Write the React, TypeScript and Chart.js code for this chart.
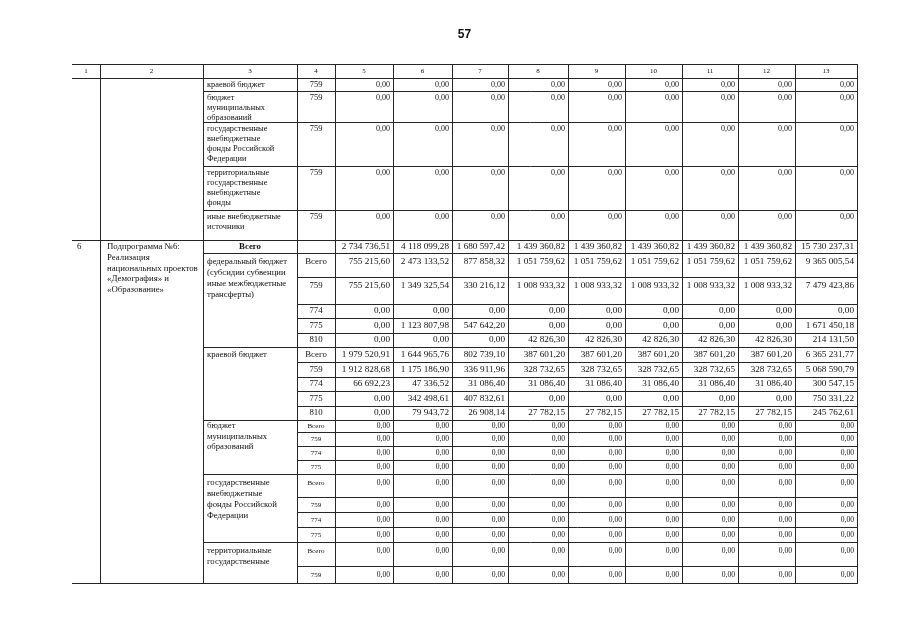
import React, { useEffect, useRef } from 'react';
import { Chart, registerables } from 'chart.js';

Chart.register(...registerables);

// ---------------- DATA ----------------
const PAGE_NUMBER = '57';
const columnHeaders = ['1', '2', '3', '4', '5', '6', '7', '8', '9', '10', '11', '12', '13'];

// continuation rows from previous page (cols 3..13)
const carrySources = [
  ['краевой бюджет'],
  ['бюджет', 'муниципальных', 'образований'],
  ['государственные', 'внебюджетные', 'фонды Российской', 'Федерации'],
  ['территориальные', 'государственные', 'внебюджетные', 'фонды'],
  ['иные внебюджетные', 'источники'],
];
const carryCodes = ['759', '759', '759', '759', '759'];
const carryValues = [
  [0, 0, 0, 0, 0, 0, 0, 0, 0],
  [0, 0, 0, 0, 0, 0, 0, 0, 0],
  [0, 0, 0, 0, 0, 0, 0, 0, 0],
  [0, 0, 0, 0, 0, 0, 0, 0, 0],
  [0, 0, 0, 0, 0, 0, 0, 0, 0],
];

// sub-programme No 6
const subNumber = '6';
const subName = ['Подпрограмма №6:', 'Реализация', 'национальных проектов', '«Демография» и', '«Образование»'];
const totalLabel = 'Всего';
const totalValues = [2734736.51, 4118099.28, 1680597.42, 1439360.82, 1439360.82, 1439360.82, 1439360.82, 1439360.82, 15730237.31];

const fedLabel = ['федеральный бюджет', '(субсидии субвенции', 'иные межбюджетные', 'трансферты)'];
const fedCodes = ['Всего', '759', '774', '775', '810'];
const fedValues = [
  [755215.60, 2473133.52, 877858.32, 1051759.62, 1051759.62, 1051759.62, 1051759.62, 1051759.62, 9365005.54],
  [755215.60, 1349325.54, 330216.12, 1008933.32, 1008933.32, 1008933.32, 1008933.32, 1008933.32, 7479423.86],
  [0, 0, 0, 0, 0, 0, 0, 0, 0],
  [0, 1123807.98, 547642.20, 0, 0, 0, 0, 0, 1671450.18],
  [0, 0, 0, 42826.30, 42826.30, 42826.30, 42826.30, 42826.30, 214131.50],
];

const krayLabel = ['краевой бюджет'];
const krayCodes = ['Всего', '759', '774', '775', '810'];
const krayValues = [
  [1979520.91, 1644965.76, 802739.10, 387601.20, 387601.20, 387601.20, 387601.20, 387601.20, 6365231.77],
  [1912828.68, 1175186.90, 336911.96, 328732.65, 328732.65, 328732.65, 328732.65, 328732.65, 5068590.79],
  [66692.23, 47336.52, 31086.40, 31086.40, 31086.40, 31086.40, 31086.40, 31086.40, 300547.15],
  [0, 342498.61, 407832.61, 0, 0, 0, 0, 0, 750331.22],
  [0, 79943.72, 26908.14, 27782.15, 27782.15, 27782.15, 27782.15, 27782.15, 245762.61],
];

const muniLabel = ['бюджет', 'муниципальных', 'образований'];
const muniCodes = ['Всего', '759', '774', '775'];
const muniValues = [
  [0, 0, 0, 0, 0, 0, 0, 0, 0],
  [0, 0, 0, 0, 0, 0, 0, 0, 0],
  [0, 0, 0, 0, 0, 0, 0, 0, 0],
  [0, 0, 0, 0, 0, 0, 0, 0, 0],
];

const gosLabel = ['государственные', 'внебюджетные', 'фонды Российской', 'Федерации'];
const gosCodes = ['Всего', '759', '774', '775'];
const gosValues = [
  [0, 0, 0, 0, 0, 0, 0, 0, 0],
  [0, 0, 0, 0, 0, 0, 0, 0, 0],
  [0, 0, 0, 0, 0, 0, 0, 0, 0],
  [0, 0, 0, 0, 0, 0, 0, 0, 0],
];

const terrLabel = ['территориальные', 'государственные'];
const terrCodes = ['Всего', '759'];
const terrValues = [
  [0, 0, 0, 0, 0, 0, 0, 0, 0],
  [0, 0, 0, 0, 0, 0, 0, 0, 0],
];

// ---------------- LAYOUT ----------------
const colWidths = [28, 103, 94, 38, 58, 59, 56, 60, 57, 57, 56, 57, 62];
const headerHeight = 14;
const carryHeights = [13, 31, 44, 44, 30];
const totalRowHeight = 13;
const fedHeights = [24, 27, 14, 15, 14];
const krayHeights = [15, 15, 14, 15, 14];
const muniHeights = [12, 14, 14, 14];
const gosHeights = [23, 15, 15, 15];
const terrHeights = [24, 17];

const SERIF = '"Liberation Serif", "Times New Roman", serif';

function fmt(v: number): string {
  const [i, d] = v.toFixed(2).split('.');
  const withSpaces = i.replace(/\B(?=(\d{3})+(?!\d))/g, '\u00a0');
  return withSpaces + ',' + d;
}

const cumW: number[] = [0];
colWidths.forEach((w) => cumW.push(cumW[cumW.length - 1] + w));
const tableWidth = cumW[cumW.length - 1];

type Block = { label: string[]; codes: string[]; values: number[][]; heights: number[]; big: boolean; spacing: number };
const blocks: Block[] = [
  { label: fedLabel, codes: fedCodes, values: fedValues, heights: fedHeights, big: true, spacing: 10.8 },
  { label: krayLabel, codes: krayCodes, values: krayValues, heights: krayHeights, big: true, spacing: 10.5 },
  { label: muniLabel, codes: muniCodes, values: muniValues, heights: muniHeights, big: false, spacing: 10.5 },
  { label: gosLabel, codes: gosCodes, values: gosValues, heights: gosHeights, big: false, spacing: 11 },
  { label: terrLabel, codes: terrCodes, values: terrValues, heights: terrHeights, big: false, spacing: 11 },
];

const tableHeight =
  headerHeight +
  carryHeights.reduce((a, b) => a + b, 0) +
  totalRowHeight +
  blocks.reduce((s, b) => s + b.heights.reduce((a, c) => a + c, 0), 0);

const tablePlugin = {
  id: 'tableDraw',
  afterDraw(chart: any) {
    const ctx: CanvasRenderingContext2D = chart.ctx;
    const xs = chart.scales.x;
    const ys = chart.scales.y;
    const X = (c: number) => Math.round(xs.getPixelForValue(cumW[c]));
    const Y = (v: number) => Math.round(ys.getPixelForValue(v));
    const nCols = colWidths.length;

    ctx.save();
    ctx.strokeStyle = '#262626';
    ctx.lineWidth = 1;
    const hline = (v: number, c0: number, c1: number) => {
      const yy = Y(v) + 0.5;
      ctx.beginPath();
      ctx.moveTo(X(c0), yy);
      ctx.lineTo(X(c1) + 1, yy);
      ctx.stroke();
    };
    const vline = (c: number, v0: number, v1: number) => {
      const xx = X(c) + 0.5;
      ctx.beginPath();
      ctx.moveTo(xx, Y(v0));
      ctx.lineTo(xx, Y(v1) + 1);
      ctx.stroke();
    };
    const text = (s: string, px: number, py: number, size: number, align: CanvasTextAlign, bold = false) => {
      ctx.font = `${bold ? 'bold ' : ''}${size}px ${SERIF}`;
      ctx.textAlign = align;
      ctx.textBaseline = 'middle';
      ctx.fillStyle = '#111';
      ctx.fillText(s, px, py);
    };
    const valuesRow = (vals: number[], py: number, size: number) => {
      vals.forEach((v, k) => {
        text(fmt(v), X(4 + k + 1) - 3, py, size, 'right');
      });
    };

    // page number
    ctx.font = `bold 12px "Liberation Sans", Arial, sans-serif`;
    ctx.fillStyle = '#111';
    ctx.textAlign = 'center';
    ctx.textBaseline = 'middle';
    ctx.fillText(PAGE_NUMBER, (X(0) + X(nCols)) / 2, Y(0) - 29);

    // header
    hline(0, 0, nCols);
    hline(headerHeight, 0, nCols);
    columnHeaders.forEach((h, c) => {
      text(h, (X(c) + X(c + 1)) / 2, Y(headerHeight / 2) + 0.5, 7, 'center');
    });

    // vertical lines
    for (let c = 1; c <= nCols; c++) vline(c, 0, tableHeight);

    // carry rows
    let top = headerHeight;
    carrySources.forEach((lines, r) => {
      const h = carryHeights[r];
      const py = Y(top) + 6.5;
      lines.forEach((ln, i) => text(ln, X(2) + 4, py + i * 10, 8.4, 'left'));
      text(carryCodes[r], (X(3) + X(4)) / 2, py, 8.5, 'center');
      valuesRow(carryValues[r], py, 8);
      top += h;
      if (r < carrySources.length - 1) hline(top, 2, nCols);
      else hline(top, 0, nCols);
    });

    // sub-programme total row
    const subTop = top;
    text(subNumber, X(0) + 5, Y(subTop) + 7, 8.8, 'left');
    subName.forEach((ln, i) => text(ln, X(1) + 7, Y(subTop) + 7 + i * 10.6, 8.8, 'left'));
    text(totalLabel, (X(2) + X(3)) / 2, Y(subTop) + 7, 8.8, 'center', true);
    valuesRow(totalValues, Y(subTop) + 7, 9.2);
    top += totalRowHeight;
    hline(top, 2, nCols);

    blocks.forEach((b, bi) => {
      const blockTop = top;
      b.codes.forEach((code, r) => {
        const h = b.heights[r];
        const py = h <= 16 ? Y(top + h / 2) : Y(top) + 9;
        text(code, (X(3) + X(4)) / 2, py, b.big ? 8.8 : 7, 'center');
        valuesRow(b.values[r], py, b.big ? 9.2 : 7.6);
        top += h;
        if (r < b.codes.length - 1) hline(top, 3, nCols);
      });
      const h0 = b.heights[0];
      const firstY = h0 <= 16 ? Y(blockTop + h0 / 2) : Y(blockTop) + 9;
      b.label.forEach((ln, i) => text(ln, X(2) + 4, firstY + i * b.spacing, 8.7, 'left'));
      if (bi < blocks.length - 1) hline(top, 2, nCols);
      else hline(top, 0, nCols);
    });

    ctx.restore();
  },
};

export default function App() {
  const ref = useRef<HTMLCanvasElement | null>(null);
  useEffect(() => {
    document.body.style.margin = '0';
    document.body.style.background = '#fff';
    const canvas = ref.current;
    if (!canvas) return;
    const chart = new Chart(canvas, {
      type: 'scatter',
      data: { datasets: [] },
      options: {
        animation: false,
        responsive: false,
        maintainAspectRatio: false,
        events: [],
        layout: { padding: { left: 72, right: 905 - 72 - tableWidth, top: 64, bottom: 640 - 64 - tableHeight } },
        plugins: { legend: { display: false }, tooltip: { enabled: false }, title: { display: false } },
        scales: {
          x: { type: 'linear', display: false, min: 0, max: tableWidth },
          y: { type: 'linear', display: false, min: 0, max: tableHeight, reverse: true },
        },
      },
      plugins: [tablePlugin],
    });
    return () => chart.destroy();
  }, []);
  return (
    <div style={{ position: 'fixed', left: 0, top: 0, width: 905, height: 640, background: '#fff' }}>
      <canvas ref={ref} width={905} height={640} style={{ display: 'block' }} />
    </div>
  );
}
